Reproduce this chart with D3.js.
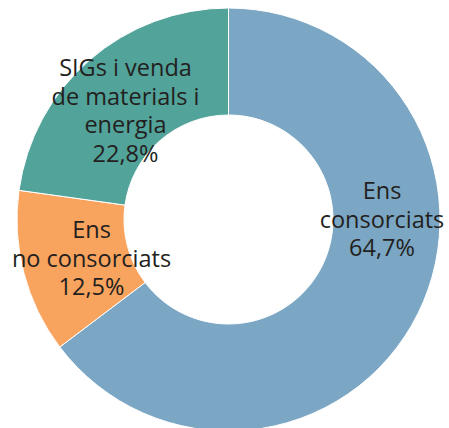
<!DOCTYPE html>
<html>
<head>
<meta charset="utf-8">
<script src="https://cdn.jsdelivr.net/npm/d3@7"></script>
<style>
  html, body { margin: 0; padding: 0; background: #fff; }
  svg { display: block; }
</style>
</head>
<body>
<svg id="chart" width="449" height="428"></svg>
<script>
const categories = ["Ens consorciats", "Ens no consorciats", "SIGs i venda de materials i energia"];
const values = [64.7, 12.5, 22.8];
const labelLines = [
  ["Ens", "consorciats", "64,7%"],
  ["Ens", "no consorciats", "12,5%"],
  ["SIGs i venda", "de materials i", "energia", "22,8%"]
];
const colors = ["#7ba7c4", "#f8a35e", "#52a39a"];

// layout (pixels)
const cx = 228.5, cy = 219.5, rOuter = 211.5, rInner = 104.5;
const labelPos = [[382, 199], [91.5, 238], [125.5, 76]]; // center x, first baseline
const lineH = 28.7;

const svg = d3.select("#chart");
const g = svg.append("g").attr("transform", `translate(${cx},${cy})`);

const data = categories.map((c, i) => ({ cat: c, value: values[i], i }));
const pie = d3.pie().value(d => d.value).sort(null);
const arc = d3.arc().innerRadius(rInner).outerRadius(rOuter);

g.selectAll("path")
  .data(pie(data))
  .join("path")
  .attr("d", arc)
  .attr("fill", d => colors[d.data.i])
  .attr("stroke", "#fff")
  .attr("stroke-width", 1);

const labels = svg.append("g")
  .attr("font-family", "'Open Sans', sans-serif")
  .attr("font-size", 23.5)
  .attr("fill", "#231f20")
  .attr("text-anchor", "middle");

labelLines.forEach((lines, i) => {
  const t = labels.append("text")
    .attr("x", labelPos[i][0])
    .attr("y", labelPos[i][1]);
  lines.forEach((ln, j) => {
    t.append("tspan")
      .attr("x", labelPos[i][0])
      .attr("y", labelPos[i][1] + j * lineH)
      .text(ln);
  });
});
</script>
</body>
</html>
